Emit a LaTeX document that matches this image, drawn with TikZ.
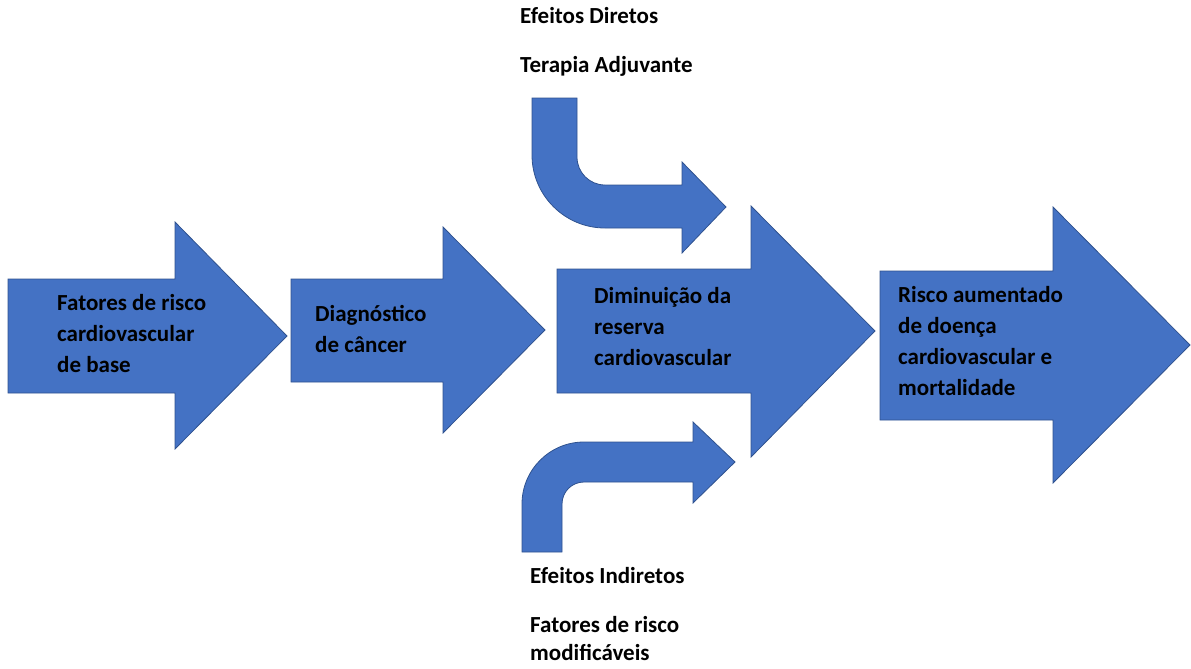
\documentclass[tikz,border=0pt]{standalone}
\usepackage{fontspec}
\setmainfont{Carlito}
\usepackage{tikz}
\definecolor{ArrBlue}{RGB}{68,114,196}
\definecolor{ArrEdge}{RGB}{47,82,143}

\begin{document}
\begin{tikzpicture}[x=1pt, y=-1pt,
          blk/.style={fill=ArrBlue, draw=ArrEdge, line width=0.8pt, line join=miter},
          lbl/.style={anchor=base west, inner sep=0pt, align=left,
                      font=\fontsize{23}{31}\selectfont\bfseries},
          lbltwo/.style={lbl, font=\fontsize{23}{28}\selectfont\bfseries}
        ]
        \useasboundingbox (0,0) rectangle (1191,669);

        % Main block arrows
        \draw[blk] (8,279) -- (175,279) -- (175,222) -- (287,336)
              -- (175,449) -- (175,393) -- (8,393) -- cycle;
        \draw[blk] (291,279) -- (443,279) -- (443,227) -- (545,330)
              -- (443,433) -- (443,382) -- (291,382) -- cycle;
        \draw[blk] (557,269) -- (751,269) -- (751,206) -- (875,331)
              -- (751,457) -- (751,393) -- (557,393) -- cycle;
        \draw[blk] (880,271) -- (1053,271) -- (1053,207) -- (1190,345)
              -- (1053,483) -- (1053,420) -- (880,420) -- cycle;

        % Bent arrow from above (direct effects)
        \draw[blk] (532,98) -- (532,155)
              .. controls (532,195.3) and (564.7,228) .. (605,228)
              -- (682,228) -- (682,253) -- (726,207) -- (682,162) -- (682,185)
              -- (605,185) .. controls (589.5,185) and (577,172.5) .. (577,157)
              -- (577,98) -- cycle;

        % Bent arrow from below (indirect effects)
        \draw[blk] (522,552) -- (522,504)
              .. controls (522,469.8) and (549.8,442) .. (584,442)
              -- (693,442) -- (693,422) -- (735,462) -- (693,503) -- (693,482)
              -- (584,482) .. controls (571.8,482) and (562,491.8) .. (562,504)
              -- (562,552) -- cycle;

        % Labels in the block arrows (placed at the baseline of the last line)
        \node[lbl] (base) at (57,372) {Fatores de risco\\cardiovascular\\de base};
        \node[lbl] (diag) at (315,352) {Diagnóstico\\de câncer};
        \node[lbl] (resv) at (594,365) {Diminuição da\\reserva\\cardiovascular};
        \node[lbl] (risk) at (898,395)
              {Risco aumentado\\de doença\\cardiovascular e\\mortalidade};

        % Labels of the side effects
        \node[lbl] (dir) at (520,24) {Efeitos Diretos};
        \node[lbl] (adj) at (520,73) {Terapia Adjuvante};
        \node[lbl] (ind) at (530,583) {Efeitos Indiretos};
        \node[lbltwo] (mod) at (530,660) {Fatores de risco\\modificáveis};
      \end{tikzpicture}
\end{document}
